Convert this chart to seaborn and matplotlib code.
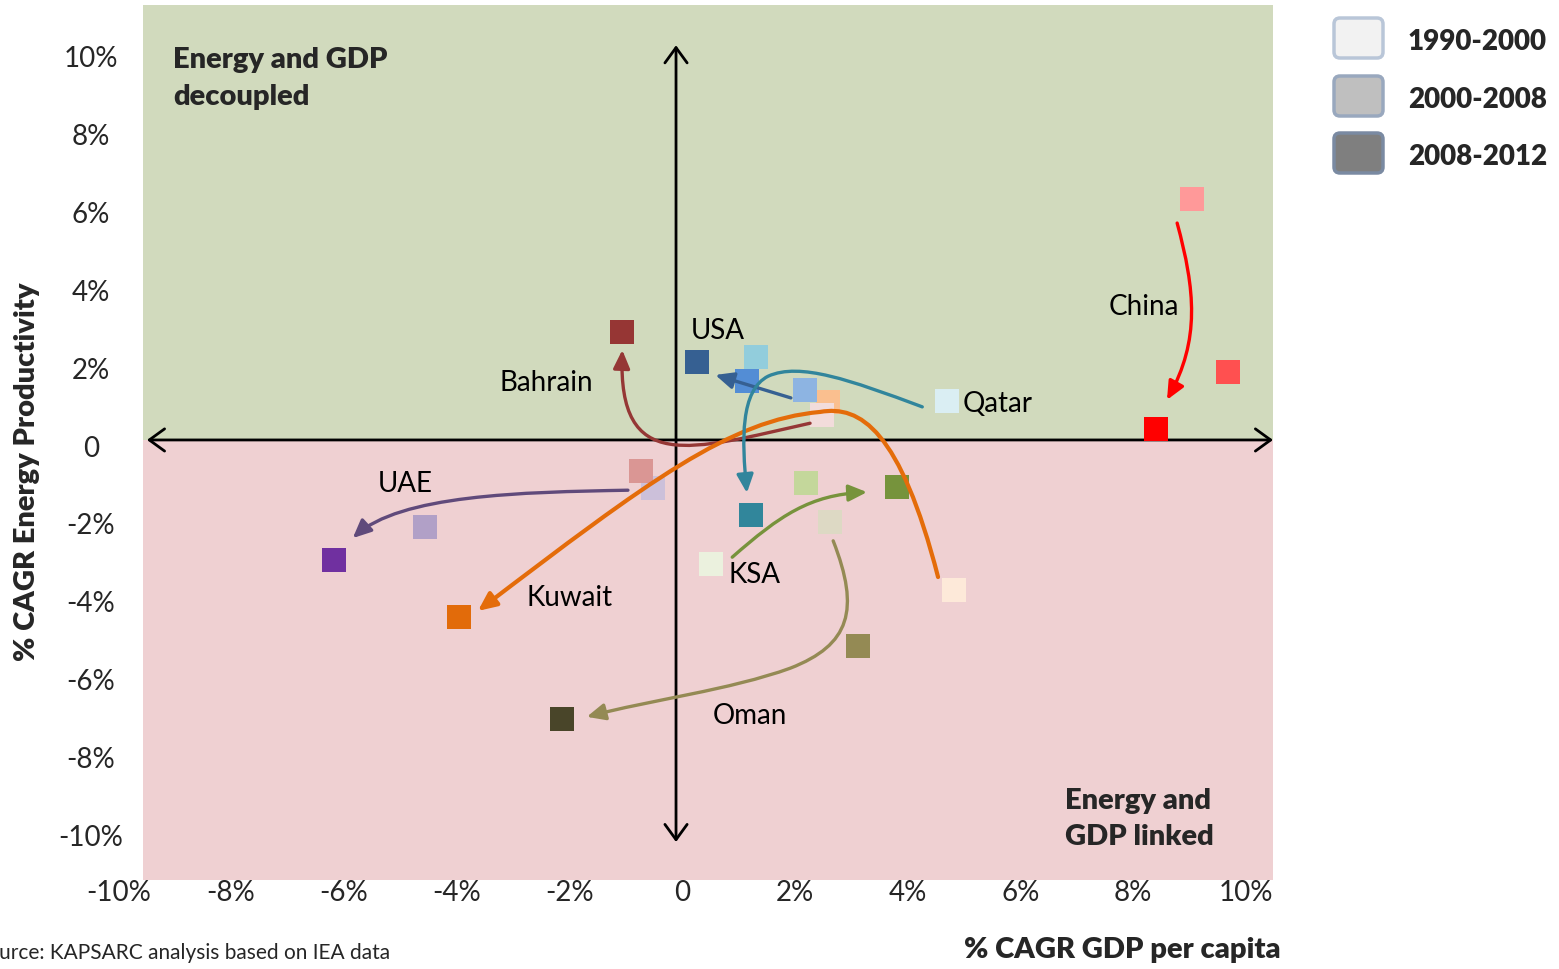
import matplotlib
matplotlib.use("Agg")
import matplotlib.pyplot as plt
import pandas as pd
import seaborn as sns
from matplotlib.path import Path
from matplotlib.patches import FancyArrowPatch, Rectangle, FancyBboxPatch
from matplotlib.transforms import blended_transform_factory, IdentityTransform

# ---------------------------------------------------------------- data
periods = ["1990-2000", "2000-2008", "2008-2012"]

# % CAGR GDP per capita (x) and % CAGR energy productivity (y), per period
uae_gdp = [-0.51, -4.56, -6.17]
uae_prod = [-1.01, -2.02, -2.86]
kuwait_gdp = [4.83, 2.59, -3.96]
kuwait_prod = [-3.63, 1.19, -4.33]
usa_gdp = [2.18, 1.15, 0.27]
usa_prod = [1.50, 1.73, 2.22]
qatar_gdp = [4.70, 1.31, 1.22]
qatar_prod = [1.22, 2.35, -1.71]
ksa_gdp = [0.51, 2.20, 3.81]
ksa_prod = [-2.97, -0.89, -0.99]
oman_gdp = [2.63, 3.12, -2.13]
oman_prod = [-1.89, -5.07, -6.94]
bahrain_gdp = [2.48, -0.73, -1.06]
bahrain_prod = [0.86, -0.58, 2.99]
china_gdp = [9.05, 9.69, 8.41]
china_prod = [6.41, 1.96, 0.50]

countries = ["UAE", "Kuwait", "USA", "Qatar", "KSA", "Oman", "Bahrain", "China"]
gdp_values = [uae_gdp, kuwait_gdp, usa_gdp, qatar_gdp, ksa_gdp, oman_gdp, bahrain_gdp, china_gdp]
prod_values = [uae_prod, kuwait_prod, usa_prod, qatar_prod, ksa_prod, oman_prod, bahrain_prod, china_prod]

# light -> dark shade for the three periods
shades = {
    "UAE": ["#CCC0DA", "#B1A0C7", "#7030A0"],
    "Kuwait": ["#FDE9D9", "#FABF8F", "#E26B0A"],
    "USA": ["#8DB4E2", "#538DD5", "#366092"],
    "Qatar": ["#DAEEF3", "#92CDDC", "#31869B"],
    "KSA": ["#EBF1DE", "#C4D79B", "#76933C"],
    "Oman": ["#DDD9C4", "#948A54", "#494529"],
    "Bahrain": ["#F2DCDB", "#DA9694", "#963634"],
    "China": ["#FF9999", "#FF5050", "#FF0000"],
}
arrow_colors = {
    "UAE": "#604A7B", "Kuwait": "#E46C0A", "USA": "#366092", "Qatar": "#31859C",
    "KSA": "#77933C", "Oman": "#948A54", "Bahrain": "#953735", "China": "#FF0000",
}

x_ticks = [-10, -8, -6, -4, -2, 0, 2, 4, 6, 8, 10]
x_tick_labels = ["-10%", "-8%", "-6%", "-4%", "-2%", "0", "2%", "4%", "6%", "8%", "10%"]
y_ticks = [10, 8, 6, 4, 2, 0, -2, -4, -6, -8, -10]
y_tick_labels = ["10%", "8%", "6%", "4%", "2%", "0", "-2%", "-4%", "-6%", "-8%", "-10%"]

rows = []
for name, gx, py in zip(countries, gdp_values, prod_values):
    for period, g, p, c in zip(periods, gx, py, shades[name]):
        rows.append({"country": name, "period": period, "gdp": g, "prod": p,
                     "key": f"{name} {period}", "color": c})
df = pd.DataFrame(rows)
palette = dict(zip(df["key"], df["color"]))

# ---------------------------------------------------------------- style
sns.set_theme(style="white")
plt.rcParams["font.family"] = ["Lato", "DejaVu Sans"]
BOLD = "heavy"
W, H = 1559, 969
fig = plt.figure(figsize=(W / 100, H / 100), dpi=100)
ax = fig.add_axes([143 / W, 1 - 880 / H, 1130 / W, 875 / H])
ax.set_xlim(-9.56, 10.48)
ax.set_ylim(-11.08, 11.39)
for s in ax.spines.values():
    s.set_visible(False)
ax.set_facecolor("none")

# quadrant backgrounds, split on the horizontal axis arrow
cross_y = 0.5029   # axes fraction of the horizontal arrow
cross_x = 0.4717   # axes fraction of the vertical arrow
ax.add_patch(Rectangle((0, cross_y), 1, 1 - cross_y, transform=ax.transAxes,
                       facecolor="#D1DABD", edgecolor="none", zorder=0))
ax.add_patch(Rectangle((0, 0), 1, cross_y, transform=ax.transAxes,
                       facecolor="#EFD0D2", edgecolor="none", zorder=0))

# axis cross drawn as double-headed arrows
cross_style = "<->,head_length=0.55,head_width=0.4"
ax.annotate("", xy=(1.0, cross_y), xytext=(0.0035, cross_y), xycoords="axes fraction",
            arrowprops=dict(arrowstyle=cross_style, lw=2, color="black",
                            shrinkA=0, shrinkB=0, mutation_scale=20), zorder=2)
ax.annotate("", xy=(cross_x, 0.954), xytext=(cross_x, 0.0434), xycoords="axes fraction",
            arrowprops=dict(arrowstyle=cross_style, lw=2, color="black",
                            shrinkA=0, shrinkB=0, mutation_scale=20), zorder=2)

# ---------------------------------------------------------------- points
sns.scatterplot(data=df, x="gdp", y="prod", hue="key", palette=palette,
                hue_order=list(df["key"]), marker="s", s=300, linewidth=0,
                legend=False, ax=ax, zorder=3)
ax.set_xlabel("")
ax.set_ylabel("")
ax.set_xticks([])
ax.set_yticks([])

# ---------------------------------------------------------------- trajectories
# Bezier curves (start, control, control, end, ...) in data units
C4 = Path.CURVE4
trajectories = {
    "Bahrain": ([(2.27, 0.65), (0.14, -0.04), (-1.14, -0.68), (-1.06, 2.53)],
                [Path.MOVETO, C4, C4, C4], 2.4),
    "Kuwait": ([(4.54, -3.30), (3.87, 0.47), (3.16, 1.12), (2.45, 0.94),
                (0.85, 0.73), (-0.57, -0.81), (-3.62, -4.17)],
               [Path.MOVETO, C4, C4, C4, C4, C4, C4], 3.0),
    "KSA": ([(0.89, -2.79), (1.74, -1.71), (2.27, -1.19), (3.28, -1.12)],
            [Path.MOVETO, C4, C4, C4], 2.4),
    "Oman": ([(2.68, -2.37), (3.16, -4.15), (2.98, -5.04), (1.92, -5.64),
              (0.85, -6.20), (-0.57, -6.46), (-1.69, -6.89)],
             [Path.MOVETO, C4, C4, C4, C4, C4, C4], 2.4),
    "UAE": ([(-0.96, -1.07), (-2.87, -1.12), (-5.00, -1.19), (-5.84, -2.30)],
            [Path.MOVETO, C4, C4, C4], 2.4),
    "USA": ([(1.93, 1.30), (0.59, 1.89)], [Path.MOVETO, Path.LINETO], 2.4),
    "Qatar": ([(4.26, 1.07), (2.98, 1.76), (2.09, 2.22), (1.53, 1.86),
               (1.03, 1.50), (1.06, 0.22), (1.15, -1.14)],
              [Path.MOVETO, C4, C4, C4, C4, C4, C4], 2.4),
    "China": ([(8.78, 5.79), (9.10, 4.07), (9.19, 2.79), (8.60, 1.25)],
              [Path.MOVETO, C4, C4, C4], 2.4),
}
for name, (verts, codes, lw) in trajectories.items():
    arrow = FancyArrowPatch(path=Path(verts, codes),
                            arrowstyle="-|>,head_length=0.55,head_width=0.25",
                            mutation_scale=20, lw=lw, color=arrow_colors[name],
                            zorder=4)
    ax.add_patch(arrow)

# ---------------------------------------------------------------- labels
label_pos = {
    "USA": (0.16, 3.02), "Bahrain": (-3.23, 1.68), "Qatar": (4.98, 1.14),
    "China": (7.56, 3.63), "UAE": (-5.39, -0.91), "Kuwait": (-2.75, -3.84),
    "KSA": (0.83, -3.25), "Oman": (0.55, -6.87),
}
for name, (lx, ly) in label_pos.items():
    ax.text(lx, ly, name, ha="left", va="center", fontsize=20, color="black", zorder=5)

ax.text(0.0265, 0.916, "Energy and GDP\ndecoupled", transform=ax.transAxes,
        ha="left", va="center", fontsize=21, fontweight=BOLD, linespacing=1.5)
ax.text(0.816, 0.0697, "Energy and\nGDP linked", transform=ax.transAxes,
        ha="left", va="center", fontsize=21, fontweight=BOLD, linespacing=1.5)

# tick labels
xt = blended_transform_factory(ax.transData, ax.transAxes)
for v, lab in zip(x_ticks, x_tick_labels):
    ax.text(v, -0.0149, lab, transform=xt, ha="center", va="center", fontsize=20,
            clip_on=False)
yt = blended_transform_factory(ax.transAxes, ax.transData)
for v, lab in zip(y_ticks, y_tick_labels):
    ax.text(-0.046, v, lab, transform=yt, ha="center", va="center", fontsize=20,
            clip_on=False)

# axis titles and source note
fig.text(1281 / W, 1 - 950 / H, "% CAGR GDP per capita", ha="right", va="center",
         fontsize=21, fontweight=BOLD)
fig.text(27 / W, 1 - 472 / H, "% CAGR Energy Productivity", ha="center", va="center",
         rotation=90, fontsize=21, fontweight=BOLD)
fig.text(390 / W, 1 - 953 / H, "Source: KAPSARC analysis based on IEA data",
         ha="right", va="center", fontsize=15)

# ---------------------------------------------------------------- period key
key_fill = ["#F2F2F2", "#BFBFBF", "#7F7F7F"]
key_edge = ["#B9C6D8", "#99A8BE", "#7A8AA2"]
key_top = [17, 75, 132]
for period, fill, edge, top in zip(periods, key_fill, key_edge, key_top):
    box = FancyBboxPatch((1334, H - top - 41), 49, 40,
                         boxstyle="round,pad=0,rounding_size=6",
                         transform=IdentityTransform(), facecolor=fill,
                         edgecolor=edge, lw=2.5)
    fig.add_artist(box)
    fig.text(1408 / W, 1 - (top + 25) / H, period, ha="left", va="center",
             fontsize=20, fontweight=BOLD)

fig.savefig("out.png", dpi=100)
